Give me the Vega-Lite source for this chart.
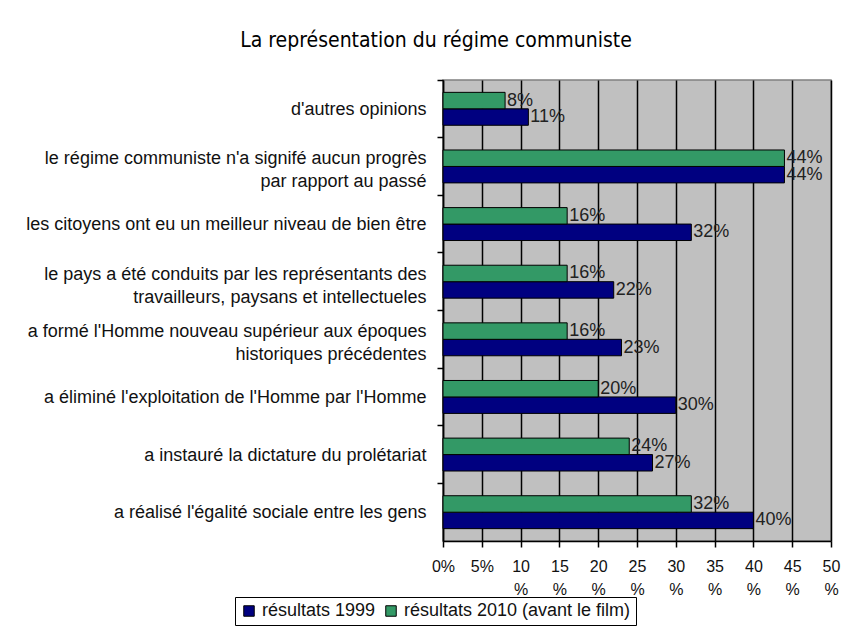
{
  "$schema": "https://vega.github.io/schema/vega-lite/v6.json",
  "autosize": "none",
  "width": 388,
  "height": 461,
  "padding": {"left": 443, "top": 80, "right": 21, "bottom": 88},
  "background": "white",
  "title": {
    "text": "La représentation du régime communiste",
    "font": "DejaVu Sans Condensed, Liberation Sans",
    "fontSize": 21,
    "fontWeight": "normal",
    "color": "#000",
    "anchor": "middle",
    "frame": "group",
    "dx": -201,
    "offset": 28
  },
  "data": {
    "values": [
      {"q": "d'autres opinions", "serie": "résultats 1999", "v": 0.11},
      {"q": "d'autres opinions", "serie": "résultats 2010 (avant le film)", "v": 0.08},
      {"q": "le régime communiste n'a signifé aucun progrès|par rapport au passé", "serie": "résultats 1999", "v": 0.44},
      {"q": "le régime communiste n'a signifé aucun progrès|par rapport au passé", "serie": "résultats 2010 (avant le film)", "v": 0.44},
      {"q": "les citoyens ont eu un meilleur niveau de bien être", "serie": "résultats 1999", "v": 0.32},
      {"q": "les citoyens ont eu un meilleur niveau de bien être", "serie": "résultats 2010 (avant le film)", "v": 0.16},
      {"q": "le pays a été conduits par les représentants des|travailleurs, paysans et intellectueles", "serie": "résultats 1999", "v": 0.22},
      {"q": "le pays a été conduits par les représentants des|travailleurs, paysans et intellectueles", "serie": "résultats 2010 (avant le film)", "v": 0.16},
      {"q": "a formé l'Homme nouveau supérieur aux époques|historiques précédentes", "serie": "résultats 1999", "v": 0.23},
      {"q": "a formé l'Homme nouveau supérieur aux époques|historiques précédentes", "serie": "résultats 2010 (avant le film)", "v": 0.16},
      {"q": "a éliminé l'exploitation de l'Homme par l'Homme ", "serie": "résultats 1999", "v": 0.30},
      {"q": "a éliminé l'exploitation de l'Homme par l'Homme ", "serie": "résultats 2010 (avant le film)", "v": 0.20},
      {"q": "a instauré la dictature du prolétariat", "serie": "résultats 1999", "v": 0.27},
      {"q": "a instauré la dictature du prolétariat", "serie": "résultats 2010 (avant le film)", "v": 0.24},
      {"q": "a réalisé l'égalité sociale entre les gens", "serie": "résultats 1999", "v": 0.40},
      {"q": "a réalisé l'égalité sociale entre les gens", "serie": "résultats 2010 (avant le film)", "v": 0.32}
    ]
  },
  "encoding": {
    "y": {
      "field": "q",
      "type": "nominal",
      "sort": null,
      "title": null,
      "scale": {"paddingInner": 0, "paddingOuter": 0},
      "axis": {
        "labelExpr": "split(datum.label, '|')",
        "labelFont": "Liberation Sans",
        "labelFontSize": 18,
        "labelColor": "#111",
        "labelLimit": 450,
        "labelPadding": 11,
        "labelLineHeight": 23,
        "labelOffset": {"condition": {"test": "indexof(datum.value, '|') >= 0", "value": -7}, "value": 1},
        "bandPosition": 0,
        "tickColor": "#000",
        "tickSize": 6,
        "domainColor": "#000",
        "domainWidth": 1.5,
        "tickWidth": 1.5,
        "grid": false
      }
    },
    "x": {
      "field": "v",
      "type": "quantitative",
      "title": null,
      "scale": {"domain": [0, 0.5], "nice": false},
      "axis": {
        "values": [0, 0.05, 0.1, 0.15, 0.2, 0.25, 0.3, 0.35, 0.4, 0.45, 0.5],
        "labelExpr": "datum.value < 0.09 ? format(datum.value, '.0%') : [format(datum.value * 100, '.0f'), '%']",
        "labelFont": "Liberation Sans",
        "labelFontSize": 16,
        "labelColor": "#111",
        "labelPadding": 11,
        "labelLineHeight": 23,
        "labelBaseline": "top",
        "labelFlush": false,
        "labelOverlap": false,
        "tickColor": "#000",
        "tickSize": 6,
        "tickWidth": 1.5,
        "domainColor": "#000",
        "domainWidth": 1.5,
        "grid": true,
        "gridColor": "#000",
        "gridWidth": 1.5,
        "gridOpacity": 1
      }
    }
  },
  "layer": [
    {
      "mark": {"type": "bar", "stroke": "#000", "strokeWidth": 1},
      "encoding": {
        "yOffset": {
          "field": "serie",
          "sort": ["résultats 2010 (avant le film)", "résultats 1999"],
          "scale": {"paddingInner": 0, "paddingOuter": 0.75}
        },
        "color": {
          "field": "serie",
          "type": "nominal",
          "scale": {
            "domain": ["résultats 1999", "résultats 2010 (avant le film)"],
            "range": ["#000080", "#339966"]
          },
          "legend": {
            "title": null,
            "orient": "none",
            "direction": "horizontal",
            "legendX": -208,
            "legendY": 517,
            "strokeColor": "#000",
            "padding": 5,
            "symbolType": "square",
            "symbolSize": 110,
            "symbolStrokeColor": "#000",
            "symbolStrokeWidth": 1,
            "symbolOpacity": 1,
            "labelFont": "Liberation Sans",
            "labelFontSize": 18,
            "labelColor": "#111",
            "labelOffset": 4,
            "columnPadding": 6,
            "labelLimit": 300
          }
        }
      }
    },
    {
      "mark": {
        "type": "text",
        "align": "left",
        "baseline": "middle",
        "dx": 2,
        "font": "Liberation Sans",
        "fontSize": 18,
        "color": "#222"
      },
      "encoding": {
        "yOffset": {
          "field": "serie",
          "sort": ["résultats 2010 (avant le film)", "résultats 1999"],
          "scale": {"paddingInner": 0, "paddingOuter": 0.75}
        },
        "text": {"field": "v", "type": "quantitative", "format": ".0%"},
        "detail": {"field": "serie"}
      }
    }
  ],
  "config": {
    "view": {"fill": "#c0c0c0", "stroke": "#808080", "strokeWidth": 1.5}
  }
}
